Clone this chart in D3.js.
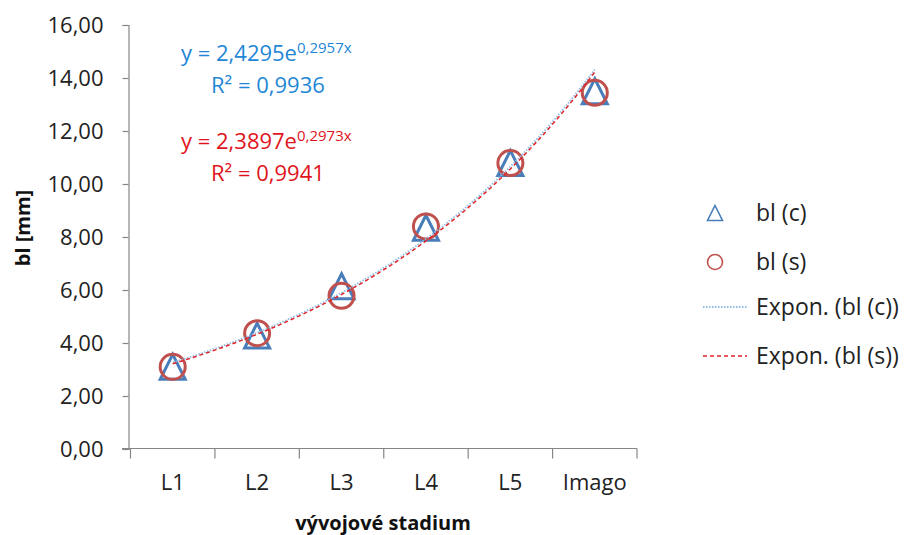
<!DOCTYPE html>
<html>
<head>
<meta charset="utf-8">
<script src="https://cdn.jsdelivr.net/npm/d3@7"></script>
<style>
  body { margin: 0; background: #fff; }
  svg text { font-family: "Open Sans", sans-serif; }
</style>
</head>
<body>
<svg id="chart" width="905" height="535"></svg>
<script>
// ---- data ----
var stages = ["L1", "L2", "L3", "L4", "L5", "Imago"];
var blC = [3.1, 4.28, 6.14, 8.35, 10.79, 13.5];
var blS = [3.1, 4.37, 5.78, 8.4, 10.79, 13.44];
var yTicks = [0, 2, 4, 6, 8, 10, 12, 14, 16];
// trendline coefficients shown on the chart (y = a*e^(b*x))
var fitC = [2.4295, 0.2957];
var fitS = [2.3897, 0.2973];
var r2C = "0,9936";
var r2S = "0,9941";
var legendNames = ["bl (c)", "bl (s)", "Expon. (bl (c))", "Expon. (bl (s))"];

var blue = "#4a7ebb", red = "#c0504d";
var axisCol = "#868686";

var svg = d3.select("#chart");

var x = d3.scaleBand().domain(stages).range([130.5, 637]);
var y = d3.scaleLinear().domain([0, 16]).range([449, 25]);
// numeric x (1..6) for trend curves
var xn = d3.scaleLinear().domain([1, 6])
    .range([x("L1") + x.bandwidth() / 2, x("Imago") + x.bandwidth() / 2]);

/////////////// axes ///////////////
var yAxis = d3.axisLeft(y)
    .tickValues(yTicks)
    .tickSize(6)
    .tickPadding(19)
    .tickFormat(function(d) { return d3.format(".2f")(d).replace(".", ","); });

var gy = svg.append("g")
    .attr("transform", "translate(128.5,0)")
    .call(yAxis);

var xAxis = d3.axisBottom(x).tickSize(0).tickPadding(26);
var gx = svg.append("g")
    .attr("transform", "translate(0,448.5)")
    .call(xAxis);

// boundary ticks of category axis
gx.selectAll(".bound")
    .data(d3.range(stages.length + 1))
    .enter().append("line")
    .attr("class", "bound")
    .attr("x1", function(i) { return x.range()[0] + x.step() * i; })
    .attr("x2", function(i) { return x.range()[0] + x.step() * i; })
    .attr("y1", 0).attr("y2", 10);

gx.select(".domain").attr("d", "M122,0H637");

svg.selectAll(".domain, .tick line, .bound")
    .attr("stroke", axisCol).attr("stroke-width", 1.2);
svg.selectAll(".tick text")
    .attr("font-family", "Open Sans")
    .attr("font-size", 22)
    .attr("fill", "#222");

// axis titles
svg.append("text")
    .attr("transform", "translate(30,228) rotate(-90)")
    .attr("text-anchor", "middle")
    .attr("font-size", 20).attr("font-weight", "bold").attr("fill", "#111")
    .text("bl [mm]");

svg.append("text")
    .attr("x", 383).attr("y", 530)
    .attr("text-anchor", "middle")
    .attr("font-size", 20).attr("font-weight", "bold").attr("fill", "#111")
    .text("vývojové stadium");

/////////////// markers ///////////////
function triPath(cx, cy, h) {
    return "M" + cx + "," + (cy - h) + "L" + (cx + h) + "," + (cy + h) + "L" + (cx - h) + "," + (cy + h) + "Z";
}

svg.append("g").selectAll("path")
    .data(blC)
    .enter().append("path")
    .attr("d", function(d, i) { return triPath(x(stages[i]) + x.bandwidth() / 2, y(d), 12.5); })
    .attr("fill", "none").attr("stroke", blue).attr("stroke-width", 3)
    .attr("stroke-linejoin", "miter");

svg.append("g").selectAll("circle")
    .data(blS)
    .enter().append("circle")
    .attr("cx", function(d, i) { return x(stages[i]) + x.bandwidth() / 2; })
    .attr("cy", function(d) { return y(d); })
    .attr("r", 12.5)
    .attr("fill", "none").attr("stroke", red).attr("stroke-width", 3);

/////////////// trendlines ///////////////
var tSteps = d3.range(1, 6.001, 0.05);
var line = d3.line()
    .x(function(t) { return xn(t); })
    .curve(d3.curveLinear);

svg.append("path")
    .datum(tSteps)
    .attr("d", line.y(function(t) { return y(fitC[0] * Math.exp(fitC[1] * t)); }))
    .attr("fill", "none").attr("stroke", "#8dbde6").attr("stroke-width", 1.8)
    .attr("stroke-dasharray", "1.5,1.5");

svg.append("path")
    .datum(tSteps)
    .attr("d", line.y(function(t) { return y(fitS[0] * Math.exp(fitS[1] * t)); }))
    .attr("fill", "none").attr("stroke", "#e0232a").attr("stroke-width", 1.5)
    .attr("stroke-dasharray", "4,3");

/////////////// equations ///////////////
function equation(fit, r2, baseY, col) {
    var t = svg.append("text").attr("x", 181).attr("y", baseY)
        .attr("font-size", 22).attr("fill", col);
    t.append("tspan").text("y = " + String(fit[0]).replace(".", ",") + "e");
    t.append("tspan").attr("font-size", 15).attr("dy", -8)
        .text(String(fit[1]).replace(".", ",") + "x");
    svg.append("text").attr("x", 211).attr("y", baseY + 32)
        .attr("font-size", 22).attr("fill", col)
        .text("R² = " + r2);
}
equation(fitC, r2C, 61, "#1f87d6");
equation(fitS, r2S, 149, "#e0141c");

/////////////// legend ///////////////
var legRows = [213, 262, 307, 356];
var leg = svg.append("g");

leg.append("path").attr("d", triPath(715, legRows[0], 7.5))
    .attr("fill", "none").attr("stroke", blue).attr("stroke-width", 1.6);
leg.append("circle").attr("cx", 715).attr("cy", legRows[1]).attr("r", 7.5)
    .attr("fill", "none").attr("stroke", red).attr("stroke-width", 1.6);
leg.append("line").attr("x1", 703).attr("x2", 747)
    .attr("y1", legRows[2]).attr("y2", legRows[2])
    .attr("stroke", "#8dbde6").attr("stroke-width", 1.8).attr("stroke-dasharray", "1.5,1.5");
leg.append("line").attr("x1", 703).attr("x2", 747)
    .attr("y1", legRows[3]).attr("y2", legRows[3])
    .attr("stroke", "#e0232a").attr("stroke-width", 1.5).attr("stroke-dasharray", "4,3");

leg.selectAll("text")
    .data(legendNames)
    .enter().append("text")
    .attr("x", 756)
    .attr("y", function(d, i) { return legRows[i]; })
    .attr("dy", "0.35em")
    .attr("font-size", 23).attr("fill", "#222")
    .text(function(d) { return d; });
</script>
</body>
</html>
